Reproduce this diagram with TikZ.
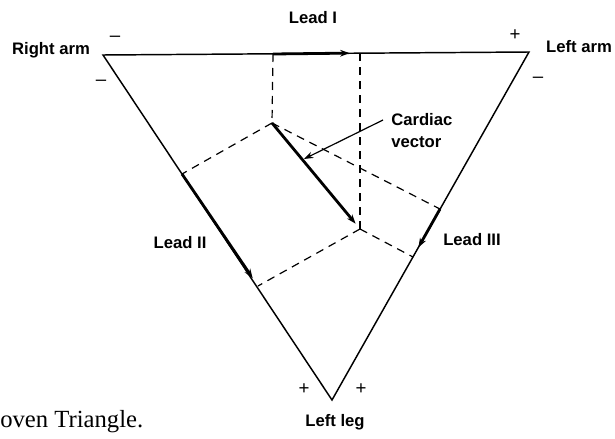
\documentclass[tikz,border=0pt]{standalone}
\usepackage{fontspec}
\setmainfont{Liberation Sans}
\newfontfamily\capfont{Liberation Serif}
\usetikzlibrary{arrows.meta,calc}
\tikzset{
  >={Stealth[length=7pt,width=5pt]},
  % triangle and leads
  side/.style={draw=black,line width=1.1pt},
  lead/.style={draw=black,line width=2.1pt},
  proj/.style={draw=black,line width=0.9pt,dash pattern=on 6pt off 4.5pt},
  ptr/.style={->,draw=black,line width=0.9pt},
  % texts
  lbl/.style={font=\fontsize{12.5}{16.5}\selectfont\bfseries,inner sep=0pt},
  sgn/.style={font=\fontsize{14}{16}\selectfont,inner sep=0pt},
}
\begin{document}
\begin{tikzpicture}[x=0.75pt,y=-0.75pt]
\useasboundingbox (0,0) rectangle (615,439);
  % corners of the triangle
  \coordinate (ra) at (103,55);
  \coordinate (la) at (529,52);
  \coordinate (ll) at (332,400);
  % cardiac vector
  \coordinate (p) at (272,123);
  \coordinate (q) at (360,229);
  % feet on the three leads
  \coordinate (i1) at (273,54);
  \coordinate (i2) at (360,53);
  \coordinate (ii1) at (182,174);
  \coordinate (ii2) at (258,286);
  \coordinate (iii1) at (440,209);
  \coordinate (iii2) at (413,257);
  \coordinate (cvtip) at (304,159);
  \draw[side,line join=miter] (ra) -- (la) -- (ll) -- cycle;
  \draw[proj] (i1) -- (p);
  \draw[proj] (i2) -- (q);
  \draw[proj] (p) -- (ii1);
  \draw[proj] (q) -- (ii2);
  \draw[proj] (p) -- (iii1);
  \draw[proj] (q) -- (iii2);
  \draw[lead,->] (i1) -- ($(i1)!0.88!(i2)$);
  \draw[lead,->] (ii1) -- ($(ii1)!0.93!(ii2)$);
  \draw[lead,->] (iii1) -- ($(iii1)!0.8!(iii2)$);
  \draw[lead,->] (p) -- ($(p)!0.95!(q)$);
  % labels
  \node[lbl] (leadi) at (313,18) {Lead I};
  \node[lbl] (rarm) at (51,50) {Right arm};
  \node[lbl] (larm) at (579,47) {Left arm};
  \node[lbl] (leadii) at (180,243) {Lead II};
  \node[lbl] (leadiii) at (472,240) {Lead III};
  \node[lbl] (lleg) at (335,422) {Left leg};
  \node[lbl,anchor=west] (cardiac) at (391,120) {Cardiac};
  \node[lbl,anchor=west] (vector) at (391,142) {vector};
  \draw[ptr] ([xshift=-6pt]cardiac.west) -- (cvtip);
  % signs
  \node[sgn] (ram1) at (115,39) {–};
  \node[sgn] (ram2) at (101,83) {–};
  \node[sgn] (lap) at (515,35) {+};
  \node[sgn] (lam) at (538,80) {–};
  \node[sgn] (llp1) at (304,389) {+};
  \node[sgn] (llp2) at (361,389) {+};
  \node[font=\capfont\fontsize{18.5}{20}\selectfont,anchor=base west,inner sep=0pt] (cap) at (0,427) {oven Triangle.};
\end{tikzpicture}
\end{document}
